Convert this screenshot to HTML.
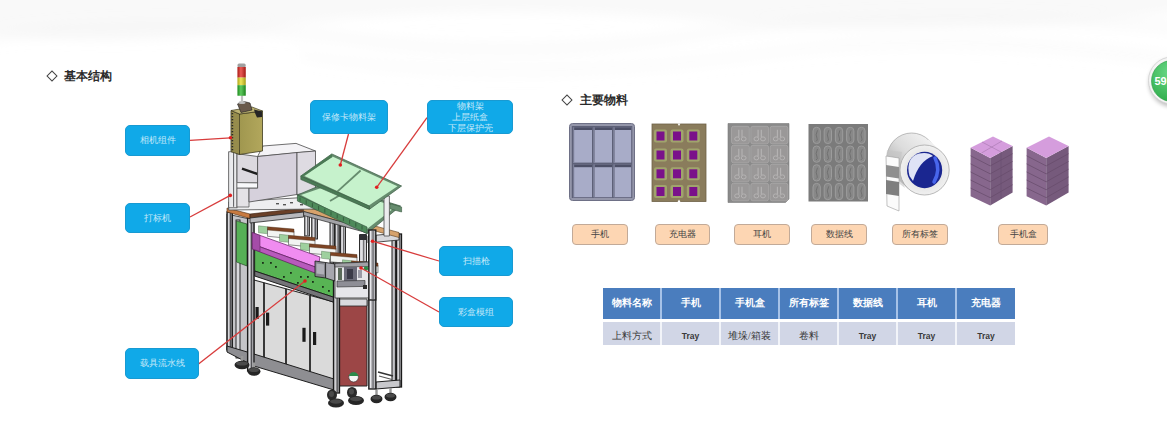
<!DOCTYPE html>
<html><head><meta charset="utf-8">
<style>
html,body{margin:0;padding:0;}
body{width:1167px;height:429px;position:relative;overflow:hidden;background:#fff;font-family:"Liberation Serif",serif;}
.bg{position:absolute;left:0;top:0;width:1167px;height:429px;}
.h{position:absolute;font-size:12px;color:#2a2a2a;font-weight:bold;line-height:12px;white-space:nowrap;}
.dia{position:absolute;width:6px;height:6px;border:1.3px solid #444;transform:rotate(45deg);}
.cb{position:absolute;background:#10a9e8;border:1px solid #189ad2;border-radius:5px;color:#c4e8f8;font-size:9px;line-height:11px;text-align:center;display:flex;align-items:center;justify-content:center;box-sizing:border-box;}
.lb{position:absolute;top:224px;height:21px;background:#fdd6b3;border:1px solid #c2aa98;border-radius:4px;box-sizing:border-box;font-size:9px;color:#444;display:flex;align-items:center;justify-content:center;}
table{position:absolute;left:603px;top:288px;border-collapse:separate;border-spacing:0;}
td{padding:0;text-align:center;font-size:10px;}
tr.r2 td{padding-top:4px;}
tr.r1 td{padding-bottom:2px;}
</style></head><body>
<svg class="bg" width="1167" height="429" viewBox="0 0 1167 429">
<defs>
<filter id="bl" x="-20%" y="-50%" width="140%" height="200%"><feGaussianBlur stdDeviation="6"/></filter>
</defs>
<g filter="url(#bl)">
<path d="M-20 -20 H1190 V10 Q950 40 700 20 Q450 0 250 30 Q100 50 -20 30 Z" fill="#ececec" opacity="0.3"/>
<path d="M-20 45 Q150 20 350 45 Q520 70 700 40 Q900 10 1190 35 V22 Q900 0 700 28 Q520 55 350 32 Q150 8 -20 32 Z" fill="#ebebeb" opacity="0.2"/>
<path d="M300 60 Q500 95 760 60 Q950 35 1190 70 V55 Q950 20 760 48 Q500 80 300 50 Z" fill="#efefef" opacity="0.2"/>
</g>
</svg>

<div class="dia" style="left:48px;top:72px"></div>
<div class="h" style="left:64px;top:70px">基本结构</div>
<div class="dia" style="left:563px;top:95.5px"></div>
<div class="h" style="left:580px;top:94px">主要物料</div>

<!-- machine -->
<svg style="position:absolute;left:0;top:0" width="1167" height="429" viewBox="0 0 1167 429">
<defs><linearGradient id="olive" x1="0" y1="0" x2="1" y2="0"><stop offset="0" stop-color="#a0974f"/><stop offset="1" stop-color="#b2a75c"/></linearGradient><linearGradient id="tl" x1="0" y1="0" x2="1" y2="0"><stop offset="0" stop-color="#000" stop-opacity="0.25"/><stop offset="0.4" stop-color="#fff" stop-opacity="0.25"/><stop offset="1" stop-color="#000" stop-opacity="0.3"/></linearGradient></defs>
<rect x="392" y="236" width="3.3999999999999773" height="147" fill="#c4c4c8" stroke="#1a1a1a" stroke-width="1"/>
<rect x="396.5" y="234" width="5.0" height="153" fill="#a8a8ac" stroke="#1a1a1a" stroke-width="1.3"/>
<rect x="397.7" y="235" width="1" height="151" fill="#e8e8ec"/>
<rect x="399.3" y="235" width="0.9" height="151" fill="#4a4a4e"/>
<path d="M376.0 382.0 L400.0 380.0 L400.0 387.0 L376.0 389.0 Z" fill="#c8c8cc" stroke="#1e1e1e" stroke-width="1" stroke-linejoin="round"/>
<path d="M378.0 372.0 L393.0 376.0" stroke="#333" stroke-width="1.6" fill="none"/>
<path d="M379.0 376.0 L392.0 379.5" stroke="#555" stroke-width="1.2" fill="none"/>
<path d="M227.0 214.0 L254.0 220.0 L254.0 366.0 L227.0 350.0 Z" fill="#c4c4c8" stroke="#262626" stroke-width="0.8" stroke-linejoin="round"/>
<rect x="227" y="212" width="5.300000000000011" height="138" fill="#9a9a9e" stroke="#1a1a1a" stroke-width="1.3"/>
<rect x="228.2" y="213" width="1" height="136" fill="#e8e8ec"/>
<rect x="230.0" y="213" width="0.9" height="136" fill="#4a4a4e"/>
<rect x="236" y="220" width="4" height="138" fill="#d8d8dc" stroke="#1a1a1a" stroke-width="0.9"/>
<path d="M254.0 280.0 L334.0 302.0 L334.0 383.0 L254.0 362.0 Z" fill="#dadada" stroke="#262626" stroke-width="1.1" stroke-linejoin="round"/>
<path d="M264.0 282.8 L264.0 364.8" stroke="#262626" stroke-width="1.8" fill="none"/>
<path d="M286.0 288.8 L286.0 370.8" stroke="#262626" stroke-width="1.8" fill="none"/>
<path d="M310.0 295.4 L310.0 377.4" stroke="#262626" stroke-width="1.8" fill="none"/>
<rect x="255.5" y="307" width="3.2" height="12" fill="#1a1a1a"/>
<rect x="266" y="312.6" width="3.2" height="13" fill="#1a1a1a"/>
<rect x="302.4" y="327.8" width="3.2" height="14" fill="#1a1a1a"/>
<rect x="313" y="332" width="3.2" height="13" fill="#1a1a1a"/>
<path d="M227.0 346.0 L254.0 354.0 L334.0 379.0 L334.0 390.0 L254.0 366.0 L227.0 352.0 Z" fill="#8e8e92" stroke="#1e1e1e" stroke-width="1" stroke-linejoin="round"/>
<path d="M236.5 221.0 L247.0 224.0 L247.0 266.0 L236.5 262.0 Z" fill="#56b056" stroke="#2a4a2a" stroke-width="0.7" stroke-linejoin="round"/>
<rect x="304.7" y="209" width="4.699999999999989" height="27" fill="#b4b4b8" stroke="#1a1a1a" stroke-width="0.9"/>
<rect x="305.9" y="210" width="1" height="25" fill="#e8e8ec"/>
<rect x="307.3" y="210" width="0.9" height="25" fill="#4a4a4e"/>
<rect x="311.7" y="213" width="5.800000000000011" height="26" fill="#a0a0a4" stroke="#1a1a1a" stroke-width="0.9"/>
<rect x="312.9" y="214" width="1" height="24" fill="#e8e8ec"/>
<rect x="314.9" y="214" width="0.9" height="24" fill="#4a4a4e"/>
<rect x="330" y="219" width="4.5" height="44" fill="#b4b4b8" stroke="#1a1a1a" stroke-width="0.9"/>
<rect x="331.2" y="220" width="1" height="42" fill="#e8e8ec"/>
<rect x="332.6" y="220" width="0.9" height="42" fill="#4a4a4e"/>
<rect x="335" y="220" width="4.699999999999989" height="43" fill="#9c9ca0" stroke="#1a1a1a" stroke-width="0.9"/>
<rect x="336.2" y="221" width="1" height="41" fill="#e8e8ec"/>
<rect x="337.7" y="221" width="0.9" height="41" fill="#4a4a4e"/>
<rect x="340.5" y="226" width="5.0" height="36" fill="#c0c0c4" stroke="#1a1a1a" stroke-width="0.9"/>
<rect x="341.7" y="227" width="1" height="34" fill="#e8e8ec"/>
<rect x="343.3" y="227" width="0.9" height="34" fill="#4a4a4e"/>
<rect x="359.5" y="235" width="7.0" height="27" fill="#d0d0d4" stroke="#1a1a1a" stroke-width="0.9"/>
<rect x="360.7" y="236" width="1" height="25" fill="#e8e8ec"/>
<rect x="363.3" y="236" width="0.9" height="25" fill="#4a4a4e"/>
<rect x="359.5" y="234" width="7" height="6" fill="#303034"/>
<path d="M368.0 236.0 L399.0 233.0 L399.0 240.0 L368.0 243.0 Z" fill="#d8d8dc" stroke="#262626" stroke-width="0.8" stroke-linejoin="round"/>
<path d="M254.7 247.0 L336.0 276.0 L336.0 298.0 L254.7 271.0 Z" fill="#58b454" stroke="#243e24" stroke-width="0.9" stroke-linejoin="round"/>
<path d="M254.7 271.0 L336.0 298.0 L336.0 303.0 L254.7 276.0 Z" fill="#747478" stroke="#1e1e1e" stroke-width="1" stroke-linejoin="round"/>
<rect x="262" y="262" width="1.8" height="1.8" fill="#1a3018"/>
<rect x="275" y="266" width="1.8" height="1.8" fill="#1a3018"/>
<rect x="290" y="272" width="1.8" height="1.8" fill="#1a3018"/>
<rect x="300" y="276" width="1.8" height="1.8" fill="#1a3018"/>
<rect x="312" y="281" width="1.8" height="1.8" fill="#1a3018"/>
<rect x="322" y="286" width="1.8" height="1.8" fill="#1a3018"/>
<rect x="283" y="276" width="1.8" height="1.8" fill="#1a3018"/>
<rect x="297" y="282" width="1.8" height="1.8" fill="#1a3018"/>
<rect x="270" y="262" width="1.8" height="1.8" fill="#1a3018"/>
<rect x="307" y="276" width="1.8" height="1.8" fill="#1a3018"/>
<rect x="328" y="290" width="1.8" height="1.8" fill="#1a3018"/>
<rect x="247.6" y="218" width="6.400000000000006" height="153" fill="#a4a4a8" stroke="#1a1a1a" stroke-width="1.3"/>
<rect x="248.8" y="219" width="1" height="151" fill="#e8e8ec"/>
<rect x="251.1" y="219" width="0.9" height="151" fill="#4a4a4e"/>
<path d="M339.5 300.0 L367.0 300.0 L367.0 386.0 L339.5 386.0 Z" fill="#9c4646" stroke="#262626" stroke-width="1" stroke-linejoin="round"/>
<path d="M339.5 299.0 L367.0 299.0 L367.0 306.0 L339.5 306.0 Z" fill="#dadade" stroke="#262626" stroke-width="0.8" stroke-linejoin="round"/>
<circle cx="353.6" cy="377.2" r="4.8" fill="#f6f6f6" stroke="#333" stroke-width="0.6"/>
<path d="M348.9 376 A4.8 4.8 0 0 1 358.3 376 Z" fill="#2c8a4a"/>
<rect x="333.5" y="262" width="6.0" height="131" fill="#9a9a9e" stroke="#1a1a1a" stroke-width="1.3"/>
<rect x="334.7" y="263" width="1" height="129" fill="#e8e8ec"/>
<rect x="336.8" y="263" width="0.9" height="129" fill="#4a4a4e"/>
<rect x="368.8" y="236" width="7.0" height="153" fill="#b8b8bc" stroke="#1a1a1a" stroke-width="1.3"/>
<rect x="370.0" y="237" width="1" height="151" fill="#e8e8ec"/>
<rect x="372.6" y="237" width="0.9" height="151" fill="#4a4a4e"/>
<path d="M227.0 208.0 L250.0 214.0 L250.0 218.5 L227.0 212.0 Z" fill="#c87a40" stroke="#4a2a10" stroke-width="0.6" stroke-linejoin="round"/>
<path d="M250.0 214.0 L303.6 208.0 L303.6 212.5 L250.0 218.5 Z" fill="#6a4028" stroke="#3a2010" stroke-width="0.6" stroke-linejoin="round"/>
<path d="M250.0 218.0 L303.6 212.0 L303.6 217.0 L250.0 223.0 Z" fill="#b8b8bc" stroke="#262626" stroke-width="0.8" stroke-linejoin="round"/>
<path d="M303.6 206.5 L399.0 232.5 L399.0 237.5 L303.6 211.5 Z" fill="#d6a26c" stroke="#5a3a1a" stroke-width="0.6" stroke-linejoin="round"/>
<path d="M303.6 211.5 L368.0 229.0 L368.0 233.0 L303.6 215.5 Z" fill="#a4a4a8" stroke="#262626" stroke-width="0.7" stroke-linejoin="round"/>
<path d="M228.7 202.0 L303.0 197.5 L318.0 198.0 L318.0 209.0 L228.7 210.0 Z" fill="#eeeef0" stroke="#4a4a4a" stroke-width="0.8" stroke-linejoin="round"/>
<rect x="276" y="203" width="3" height="1.4" fill="#555"/>
<rect x="283" y="204" width="3" height="1.4" fill="#555"/>
<rect x="290" y="202" width="3" height="1.4" fill="#555"/>
<rect x="300" y="204" width="3" height="1.4" fill="#555"/>
<rect x="308" y="203" width="3" height="1.4" fill="#555"/>
<rect x="228.7" y="151.8" width="8.300000000000011" height="56.0" fill="#ebebed" stroke="#4a4a4a" stroke-width="0.8"/>
<rect x="229.9" y="152.8" width="1" height="54.0" fill="#e8e8ec"/>
<rect x="233.2" y="152.8" width="0.9" height="54.0" fill="#4a4a4e"/>
<path d="M237.0 153.7 L257.6 156.5 L257.6 183.0 L237.0 182.6 Z" fill="#dcd9df" stroke="#4a4a4a" stroke-width="0.8" stroke-linejoin="round"/>
<path d="M237.0 182.6 L257.6 183.0 L257.6 188.2 L237.0 188.2 Z" fill="#f8f8fa" stroke="#4a4a4a" stroke-width="0.6" stroke-linejoin="round"/>
<path d="M237.0 188.2 L249.0 188.2 L249.0 207.0 L237.0 207.0 Z" fill="#e4e2e6" stroke="#4a4a4a" stroke-width="0.7" stroke-linejoin="round"/>
<path d="M242 168.6 L257.6 174" stroke="#1e1e1e" stroke-width="2.4"/>
<path d="M263.0 146.0 L296.0 143.4 L315.5 151.0 L257.6 156.5 Z" fill="#f4f3f6" stroke="#4a4a4a" stroke-width="0.8" stroke-linejoin="round"/>
<path d="M257.6 156.5 L297.0 152.5 L297.0 194.5 L249.0 202.0 L249.0 188.2 L257.6 188.2 Z" fill="#d6d1dc" stroke="#4a4a4a" stroke-width="0.8" stroke-linejoin="round"/>
<path d="M297.0 152.5 L315.5 151.0 L315.5 192.5 L297.0 194.5 Z" fill="#dedbe2" stroke="#4a4a4a" stroke-width="0.8" stroke-linejoin="round"/>
<path d="M231.0 110.5 L239.5 114.0 L239.5 154.5 L231.0 151.7 Z" fill="#968c4c" stroke="#3e3a20" stroke-width="0.8" stroke-linejoin="round"/>
<path d="M239.5 114.0 L262.5 111.0 L262.5 151.0 L239.5 154.5 Z" fill="url(#olive)" stroke="#3e3a20" stroke-width="0.8" stroke-linejoin="round"/>
<path d="M231.0 110.5 L252.0 107.0 L262.5 111.0 L239.5 114.0 Z" fill="#bdb372" stroke="#3e3a20" stroke-width="0.7" stroke-linejoin="round"/>
<rect x="231.6" y="113" width="1.6" height="1.3" fill="#2a2a2a"/>
<rect x="231.6" y="116" width="1.6" height="1.3" fill="#2a2a2a"/>
<rect x="231.6" y="119" width="1.6" height="1.3" fill="#2a2a2a"/>
<rect x="231.6" y="122" width="1.6" height="1.3" fill="#2a2a2a"/>
<rect x="231.6" y="125" width="1.6" height="1.3" fill="#2a2a2a"/>
<rect x="231.6" y="128" width="1.6" height="1.3" fill="#2a2a2a"/>
<rect x="231.6" y="131" width="1.6" height="1.3" fill="#2a2a2a"/>
<rect x="231.6" y="134" width="1.6" height="1.3" fill="#2a2a2a"/>
<rect x="231.6" y="137" width="1.6" height="1.3" fill="#2a2a2a"/>
<rect x="231.6" y="140" width="1.6" height="1.3" fill="#2a2a2a"/>
<rect x="231.6" y="143" width="1.6" height="1.3" fill="#2a2a2a"/>
<rect x="231.6" y="146" width="1.6" height="1.3" fill="#2a2a2a"/>
<rect x="231.6" y="149" width="1.6" height="1.3" fill="#2a2a2a"/>
<path d="M239.5 115.0 L239.5 150.0" stroke="#5a5530" stroke-width="0.8" fill="none"/>
<path d="M237.5 104.0 L244.0 101.5 L250.0 103.0 L252.0 110.0 L241.0 112.5 Z" fill="#6a5a4c" stroke="#1e1e1e" stroke-width="0.6" stroke-linejoin="round"/>
<ellipse cx="242" cy="102.5" rx="3.5" ry="1.6" fill="#b8b8b8"/>
<path d="M254.0 109.5 L262.0 111.5 L262.0 117.0 L257.0 117.5 L255.0 113.0 Z" fill="#252525"/>
<rect x="240.9" y="95" width="2.2" height="8" fill="#c0c0c0"/>
<rect x="237.5" y="63.5" width="8.2" height="4" rx="1.5" fill="#a0a0a0"/>
<rect x="237.5" y="67" width="8.2" height="10.6" fill="#e2231c"/>
<rect x="237.5" y="77.6" width="8.2" height="7.6" fill="#e9dc22"/>
<rect x="237.5" y="85.2" width="8.2" height="10.5" fill="#28b828"/>
<rect x="237.5" y="67" width="8.2" height="28.7" fill="url(#tl)"/>
<path d="M297.4 195.0 L326.0 183.0 L400.5 206.0 L367.0 233.6 Z" fill="#668c6e" stroke="#3a5a42" stroke-width="0.7" stroke-linejoin="round"/>
<path d="M301.0 195.0 L327.0 186.0 L396.0 206.5 L367.0 229.0 Z" fill="#c6f2cc"/>
<path d="M330.0 201.0 L352.0 188.0" stroke="#668c6e" stroke-width="1.8" fill="none"/>
<path d="M297.4 195.0 L367.0 227.0 L367.0 233.6 L297.4 201.0 Z" fill="#4e8a5a" stroke="#3a5a42" stroke-width="0.7" stroke-linejoin="round"/>
<path d="M300.0 197.5 L300.0 201.5" stroke="#2c4c34" stroke-width="0.7" fill="none"/>
<path d="M306.2 200.3 L306.2 204.3" stroke="#2c4c34" stroke-width="0.7" fill="none"/>
<path d="M312.4 203.1 L312.4 207.1" stroke="#2c4c34" stroke-width="0.7" fill="none"/>
<path d="M318.6 205.9 L318.6 209.9" stroke="#2c4c34" stroke-width="0.7" fill="none"/>
<path d="M324.8 208.7 L324.8 212.7" stroke="#2c4c34" stroke-width="0.7" fill="none"/>
<path d="M331.0 211.5 L331.0 215.5" stroke="#2c4c34" stroke-width="0.7" fill="none"/>
<path d="M337.2 214.3 L337.2 218.3" stroke="#2c4c34" stroke-width="0.7" fill="none"/>
<path d="M343.4 217.1 L343.4 221.1" stroke="#2c4c34" stroke-width="0.7" fill="none"/>
<path d="M349.6 219.9 L349.6 223.9" stroke="#2c4c34" stroke-width="0.7" fill="none"/>
<path d="M355.8 222.7 L355.8 226.7" stroke="#2c4c34" stroke-width="0.7" fill="none"/>
<path d="M362.0 225.5 L362.0 229.5" stroke="#2c4c34" stroke-width="0.7" fill="none"/>
<path d="M390.5 203.7 L401.6 207.0 L401.6 212.0 L390.5 209.0 Z" fill="#668c6e" stroke="#3a5a42" stroke-width="0.6" stroke-linejoin="round"/>
<path d="M384.0 196.0 L389.4 196.0 L389.4 236.0 L384.0 236.0 Z" fill="#ececee" stroke="#4a4a4a" stroke-width="0.8" stroke-linejoin="round"/>
<path d="M300.8 176.0 L331.8 153.9 L401.6 186.0 L369.4 209.3 Z" fill="#668c6e" stroke="#3a5a42" stroke-width="0.7" stroke-linejoin="round"/>
<path d="M304.5 176.0 L332.5 156.5 L397.5 186.2 L368.8 205.5 Z" fill="#c6f2cc"/>
<path d="M360.6 170.5 L336.2 192.6" stroke="#668c6e" stroke-width="1.8" fill="none"/>
<path d="M300.8 176.0 L369.4 206.0 L369.4 209.3 L300.8 179.5 Z" fill="#4a7a55" stroke="#3a5a42" stroke-width="0.6" stroke-linejoin="round"/>
<path d="M300.8 176.0 L331.8 153.9 L332.5 157.0 L302.0 177.0 Z" fill="#4a7a55"/>
<path d="M258.5 225.8 L267.5 226.8 L267.5 233.8 L258.5 232.8 Z" fill="#9ed09e" stroke="#4a6a4a" stroke-width="0.4" stroke-linejoin="round"/>
<path d="M267.5 228.8 L294.0 231.3 L294.0 238.8 L267.5 236.3 Z" fill="#f2f4f2" stroke="#444" stroke-width="0.6" stroke-linejoin="round"/>
<path d="M267.5 226.8 L294.0 229.1 L294.0 232.3 L267.5 230.0 Z" fill="#7e4424" stroke="#4a2a14" stroke-width="0.4" stroke-linejoin="round"/>
<path d="M279.5 234.3 L288.5 235.3 L288.5 242.3 L279.5 241.3 Z" fill="#9ed09e" stroke="#4a6a4a" stroke-width="0.4" stroke-linejoin="round"/>
<path d="M288.5 237.3 L315.0 239.8 L315.0 247.3 L288.5 244.8 Z" fill="#f2f4f2" stroke="#444" stroke-width="0.6" stroke-linejoin="round"/>
<path d="M288.5 235.3 L315.0 237.6 L315.0 240.8 L288.5 238.5 Z" fill="#7e4424" stroke="#4a2a14" stroke-width="0.4" stroke-linejoin="round"/>
<path d="M300.5 242.8 L309.5 243.8 L309.5 250.8 L300.5 249.8 Z" fill="#9ed09e" stroke="#4a6a4a" stroke-width="0.4" stroke-linejoin="round"/>
<path d="M309.5 245.8 L336.0 248.3 L336.0 255.8 L309.5 253.3 Z" fill="#f2f4f2" stroke="#444" stroke-width="0.6" stroke-linejoin="round"/>
<path d="M309.5 243.8 L336.0 246.1 L336.0 249.3 L309.5 247.0 Z" fill="#7e4424" stroke="#4a2a14" stroke-width="0.4" stroke-linejoin="round"/>
<path d="M321.5 251.3 L330.5 252.3 L330.5 259.3 L321.5 258.3 Z" fill="#9ed09e" stroke="#4a6a4a" stroke-width="0.4" stroke-linejoin="round"/>
<path d="M330.5 254.3 L357.0 256.8 L357.0 264.3 L330.5 261.8 Z" fill="#f2f4f2" stroke="#444" stroke-width="0.6" stroke-linejoin="round"/>
<path d="M330.5 252.3 L357.0 254.6 L357.0 257.8 L330.5 255.5 Z" fill="#7e4424" stroke="#4a2a14" stroke-width="0.4" stroke-linejoin="round"/>
<path d="M342.5 259.8 L351.5 260.8 L351.5 267.8 L342.5 266.8 Z" fill="#9ed09e" stroke="#4a6a4a" stroke-width="0.4" stroke-linejoin="round"/>
<path d="M351.5 262.8 L378.0 265.3 L378.0 272.8 L351.5 270.3 Z" fill="#f2f4f2" stroke="#444" stroke-width="0.6" stroke-linejoin="round"/>
<path d="M351.5 260.8 L378.0 263.1 L378.0 266.3 L351.5 264.0 Z" fill="#7e4424" stroke="#4a2a14" stroke-width="0.4" stroke-linejoin="round"/>
<path d="M252.3 232.6 L320.0 257.0 L318.0 268.0 L252.3 244.0 Z" fill="#f08cf0" stroke="#5a1a5a" stroke-width="0.7" stroke-linejoin="round"/>
<path d="M252.3 244.0 L318.0 268.0 L315.0 273.0 L252.3 249.0 Z" fill="#b85abc" stroke="#5a1a5a" stroke-width="0.7" stroke-linejoin="round"/>
<path d="M252.3 232.6 L260.0 235.4 L260.0 251.5 L252.3 249.0 Z" fill="#a44ca8" stroke="#5a1a5a" stroke-width="0.5" stroke-linejoin="round"/>
<path d="M315.0 261.0 L325.6 262.5 L325.6 278.0 L315.0 276.5 Z" fill="#85858c" stroke="#1a1a1a" stroke-width="0.8" stroke-linejoin="round"/>
<path d="M316.5 263.5 L324.0 264.5 L324.0 274.5 L316.5 273.5 Z" fill="#b0b0b8"/>
<path d="M325.6 262.5 L335.0 264.0 L335.0 281.0 L325.6 278.0 Z" fill="#a6a6ae" stroke="#1a1a1a" stroke-width="0.8" stroke-linejoin="round"/>
<path d="M335.0 263.4 L369.6 262.0 L369.6 298.0 L335.0 298.0 Z" fill="#e6e6ea" stroke="#2a2a2a" stroke-width="0.8" stroke-linejoin="round"/>
<path d="M335.0 263.4 L369.6 262.0 L369.6 266.5 L335.0 267.0 Z" fill="#a0a0a6" stroke="#2a2a2a" stroke-width="0.6" stroke-linejoin="round"/>
<rect x="338" y="268" width="4" height="12" fill="#5a6a5a"/>
<rect x="344" y="267" width="13" height="14" fill="#6a6a78"/>
<rect x="347" y="269" width="6" height="10" fill="#3a3a48"/>
<rect x="358" y="270" width="4" height="8" fill="#9a9aa6"/>
<circle cx="366" cy="268.5" r="2.2" fill="#2e8a44"/>
<path d="M337.0 281.0 L365.0 280.5 L365.0 286.4 L337.0 287.0 Z" fill="#8e8e96" stroke="#2a2a2a" stroke-width="0.6" stroke-linejoin="round"/>
<rect x="363" y="285" width="4" height="4" fill="#2a2a2a"/>
<rect x="368.8" y="230" width="7.0" height="70" fill="#b8b8bc" stroke="#1a1a1a" stroke-width="1.3"/>
<rect x="370.0" y="231" width="1" height="68" fill="#e8e8ec"/>
<rect x="372.6" y="231" width="0.9" height="68" fill="#4a4a4e"/>
<rect x="240.8" y="356" width="2.4" height="7" fill="#9a9a9a"/>
<ellipse cx="242" cy="365" rx="7.5" ry="4.2" fill="#262626"/>
<ellipse cx="242" cy="363.5" rx="6.0" ry="2" fill="#4a4a4a"/>
<rect x="252.8" y="362.5" width="2.4" height="7" fill="#9a9a9a"/>
<ellipse cx="254" cy="371.5" rx="6.5" ry="4.2" fill="#262626"/>
<ellipse cx="254" cy="370.0" rx="5.0" ry="2" fill="#4a4a4a"/>
<rect x="375.3" y="390" width="2.4" height="7" fill="#9a9a9a"/>
<ellipse cx="376.5" cy="399" rx="6.0" ry="4.2" fill="#262626"/>
<ellipse cx="376.5" cy="397.5" rx="4.5" ry="2" fill="#4a4a4a"/>
<rect x="389.3" y="388" width="2.4" height="7" fill="#9a9a9a"/>
<ellipse cx="390.5" cy="397" rx="6.0" ry="4.2" fill="#262626"/>
<ellipse cx="390.5" cy="395.5" rx="4.5" ry="2" fill="#4a4a4a"/>
<ellipse cx="332" cy="395" rx="5" ry="5.5" fill="#2a2a2a"/>
<ellipse cx="331.5" cy="394" rx="2.5" ry="3" fill="#4a4a4a"/>
<ellipse cx="336" cy="403" rx="8" ry="4.5" fill="#262626"/>
<ellipse cx="336" cy="401.5" rx="6" ry="2.2" fill="#484848"/>
<ellipse cx="352" cy="392.5" rx="5" ry="5.5" fill="#2a2a2a"/>
<ellipse cx="351.5" cy="391.5" rx="2.5" ry="3" fill="#4a4a4a"/>
<ellipse cx="356" cy="400.5" rx="8" ry="4.5" fill="#262626"/>
<ellipse cx="356" cy="399.0" rx="6" ry="2.2" fill="#484848"/>
</svg>
<!-- /machine -->
<!-- red -->
<svg style="position:absolute;left:0;top:0" width="1167" height="429" viewBox="0 0 1167 429">
<path d="M190 140.3 L230.5 137.8" stroke="#d83c3c" stroke-width="1.3" fill="none"/>
<circle cx="230.5" cy="137.8" r="1.8" fill="#e02020"/>
<path d="M190 217 L230.3 195.4" stroke="#d83c3c" stroke-width="1.3" fill="none"/>
<circle cx="230.3" cy="195.4" r="1.8" fill="#e02020"/>
<path d="M198.5 364 L305 281" stroke="#d83c3c" stroke-width="1.3" fill="none"/>
<circle cx="305" cy="281" r="1.8" fill="#e02020"/>
<path d="M348.5 134 L340.3 165" stroke="#d83c3c" stroke-width="1.3" fill="none"/>
<circle cx="340.3" cy="165" r="1.8" fill="#e02020"/>
<path d="M427 117.6 L376.7 187.3" stroke="#d83c3c" stroke-width="1.3" fill="none"/>
<circle cx="376.7" cy="187.3" r="1.8" fill="#e02020"/>
<path d="M439 261 L372.5 241.2" stroke="#d83c3c" stroke-width="1.3" fill="none"/>
<circle cx="372.5" cy="241.2" r="1.8" fill="#e02020"/>
<path d="M439 312 L361 268" stroke="#d83c3c" stroke-width="1.3" fill="none"/>
<circle cx="361" cy="268" r="1.8" fill="#e02020"/>
</svg>
<!-- /red -->
<!-- callouts -->
<div class="cb" style="left:125px;top:125px;width:65px;height:31px">相机组件</div>
<div class="cb" style="left:125px;top:203px;width:65px;height:30px">打标机</div>
<div class="cb" style="left:125px;top:348px;width:74px;height:31px">载具流水线</div>
<div class="cb" style="left:310px;top:100px;width:78px;height:34px">保修卡物料架</div>
<div class="cb" style="left:427px;top:100px;width:86px;height:34px">物料架<br>上层纸盒<br>下层保护壳</div>
<div class="cb" style="left:439px;top:246px;width:74px;height:30px">扫描枪</div>
<div class="cb" style="left:439px;top:297px;width:74px;height:30px">彩盒模组</div>

<!-- materials -->
<svg style="position:absolute;left:0;top:0" width="1167" height="429" viewBox="0 0 1167 429">
<defs><linearGradient id="rollside" x1="0.7" y1="0" x2="0" y2="0.8"><stop offset="0" stop-color="#f0f0f0"/><stop offset="0.45" stop-color="#dcdcdc"/><stop offset="1" stop-color="#a6a6a6"/></linearGradient><radialGradient id="hole" cx="0.6" cy="0.55" r="0.6"><stop offset="0" stop-color="#2a3ab8"/><stop offset="0.5" stop-color="#3a58e0"/><stop offset="0.8" stop-color="#1a2890"/><stop offset="1" stop-color="#0c1460"/></radialGradient><radialGradient id="face" cx="0.5" cy="0.5" r="0.5"><stop offset="0.6" stop-color="#e4e4e4"/><stop offset="1" stop-color="#f0f0f0"/></radialGradient></defs>
<rect x="569.5" y="123.5" width="65" height="77" rx="3" fill="#9496aa" stroke="#6e7086" stroke-width="1"/>
<rect x="571.8" y="126" width="60.5" height="72" fill="#5e6178"/>
<rect x="573" y="127.2" width="19" height="35.39999999999999" fill="#a8acc8"/>
<rect x="573" y="127.2" width="19" height="2.8" fill="#4c4f66"/>
<rect x="573" y="127.2" width="1.2" height="35.39999999999999" fill="#7a7d96"/>
<rect x="573" y="164.4" width="19" height="32.79999999999998" fill="#a8acc8"/>
<rect x="573" y="164.4" width="19" height="2.8" fill="#4c4f66"/>
<rect x="573" y="164.4" width="1.2" height="32.79999999999998" fill="#7a7d96"/>
<rect x="593.6" y="127.2" width="18.399999999999977" height="35.39999999999999" fill="#a8acc8"/>
<rect x="593.6" y="127.2" width="18.399999999999977" height="2.8" fill="#4c4f66"/>
<rect x="593.6" y="127.2" width="1.2" height="35.39999999999999" fill="#7a7d96"/>
<rect x="593.6" y="164.4" width="18.399999999999977" height="32.79999999999998" fill="#a8acc8"/>
<rect x="593.6" y="164.4" width="18.399999999999977" height="2.8" fill="#4c4f66"/>
<rect x="593.6" y="164.4" width="1.2" height="32.79999999999998" fill="#7a7d96"/>
<rect x="613.6" y="127.2" width="17.600000000000023" height="35.39999999999999" fill="#a8acc8"/>
<rect x="613.6" y="127.2" width="17.600000000000023" height="2.8" fill="#4c4f66"/>
<rect x="613.6" y="127.2" width="1.2" height="35.39999999999999" fill="#7a7d96"/>
<rect x="613.6" y="164.4" width="17.600000000000023" height="32.79999999999998" fill="#a8acc8"/>
<rect x="613.6" y="164.4" width="17.600000000000023" height="2.8" fill="#4c4f66"/>
<rect x="613.6" y="164.4" width="1.2" height="32.79999999999998" fill="#7a7d96"/>
<rect x="652" y="124" width="54" height="77.5" fill="#8a7c5c" stroke="#6e6248" stroke-width="0.8"/>
<rect x="654.0" y="129.5" width="13" height="13" rx="2" fill="#a0a46c"/>
<rect x="656.5" y="131.5" width="8" height="9" fill="#7a118a"/>
<rect x="654.0" y="148.5" width="13" height="13" rx="2" fill="#a0a46c"/>
<rect x="656.5" y="150.5" width="8" height="9" fill="#7a118a"/>
<rect x="654.0" y="167.3" width="13" height="13" rx="2" fill="#a0a46c"/>
<rect x="656.5" y="169.3" width="8" height="9" fill="#7a118a"/>
<rect x="654.0" y="185.0" width="13" height="13" rx="2" fill="#a0a46c"/>
<rect x="656.5" y="187.0" width="8" height="9" fill="#7a118a"/>
<rect x="670.5" y="129.5" width="13" height="13" rx="2" fill="#a0a46c"/>
<rect x="673" y="131.5" width="8" height="9" fill="#7a118a"/>
<rect x="670.5" y="148.5" width="13" height="13" rx="2" fill="#a0a46c"/>
<rect x="673" y="150.5" width="8" height="9" fill="#7a118a"/>
<rect x="670.5" y="167.3" width="13" height="13" rx="2" fill="#a0a46c"/>
<rect x="673" y="169.3" width="8" height="9" fill="#7a118a"/>
<rect x="670.5" y="185.0" width="13" height="13" rx="2" fill="#a0a46c"/>
<rect x="673" y="187.0" width="8" height="9" fill="#7a118a"/>
<rect x="686.8" y="129.5" width="13" height="13" rx="2" fill="#a0a46c"/>
<rect x="689.3" y="131.5" width="8" height="9" fill="#7a118a"/>
<rect x="686.8" y="148.5" width="13" height="13" rx="2" fill="#a0a46c"/>
<rect x="689.3" y="150.5" width="8" height="9" fill="#7a118a"/>
<rect x="686.8" y="167.3" width="13" height="13" rx="2" fill="#a0a46c"/>
<rect x="689.3" y="169.3" width="8" height="9" fill="#7a118a"/>
<rect x="686.8" y="185.0" width="13" height="13" rx="2" fill="#a0a46c"/>
<rect x="689.3" y="187.0" width="8" height="9" fill="#7a118a"/>
<path d="M677.5 123.5 L679 126 L680.5 123.5 Z M677.5 202 L679 199.5 L680.5 202 Z" fill="#ffffff"/>
<path d="M728 123.5 H789 V199 L785.5 202.5 H728 Z" fill="#8a8a8a" stroke="#7a7a7a" stroke-width="0.6"/>
<rect x="731.5" y="126.3" width="17.8" height="17.5" rx="2" fill="#9a9898" stroke="#b2b0b0" stroke-width="0.6"/>
<path d="M738.8 129.8 V137.3 M742.0 129.8 V137.3" stroke="#b6b4b4" stroke-width="1.1" fill="none"/>
<ellipse cx="737.1" cy="138.9" rx="2.4" ry="2" fill="none" stroke="#b6b4b4" stroke-width="1"/>
<ellipse cx="743.7" cy="138.9" rx="2.4" ry="2" fill="none" stroke="#b6b4b4" stroke-width="1"/>
<rect x="731.5" y="145.3" width="17.8" height="17.5" rx="2" fill="#9a9898" stroke="#b2b0b0" stroke-width="0.6"/>
<path d="M738.8 148.8 V156.3 M742.0 148.8 V156.3" stroke="#b6b4b4" stroke-width="1.1" fill="none"/>
<ellipse cx="737.1" cy="157.9" rx="2.4" ry="2" fill="none" stroke="#b6b4b4" stroke-width="1"/>
<ellipse cx="743.7" cy="157.9" rx="2.4" ry="2" fill="none" stroke="#b6b4b4" stroke-width="1"/>
<rect x="731.5" y="164.3" width="17.8" height="17.5" rx="2" fill="#9a9898" stroke="#b2b0b0" stroke-width="0.6"/>
<path d="M738.8 167.8 V175.3 M742.0 167.8 V175.3" stroke="#b6b4b4" stroke-width="1.1" fill="none"/>
<ellipse cx="737.1" cy="176.9" rx="2.4" ry="2" fill="none" stroke="#b6b4b4" stroke-width="1"/>
<ellipse cx="743.7" cy="176.9" rx="2.4" ry="2" fill="none" stroke="#b6b4b4" stroke-width="1"/>
<rect x="731.5" y="183.3" width="17.8" height="17.5" rx="2" fill="#9a9898" stroke="#b2b0b0" stroke-width="0.6"/>
<path d="M738.8 186.8 V194.3 M742.0 186.8 V194.3" stroke="#b6b4b4" stroke-width="1.1" fill="none"/>
<ellipse cx="737.1" cy="195.9" rx="2.4" ry="2" fill="none" stroke="#b6b4b4" stroke-width="1"/>
<ellipse cx="743.7" cy="195.9" rx="2.4" ry="2" fill="none" stroke="#b6b4b4" stroke-width="1"/>
<rect x="750.8" y="126.3" width="17.8" height="17.5" rx="2" fill="#9a9898" stroke="#b2b0b0" stroke-width="0.6"/>
<path d="M758.0999999999999 129.8 V137.3 M761.3 129.8 V137.3" stroke="#b6b4b4" stroke-width="1.1" fill="none"/>
<ellipse cx="756.4" cy="138.9" rx="2.4" ry="2" fill="none" stroke="#b6b4b4" stroke-width="1"/>
<ellipse cx="763.0" cy="138.9" rx="2.4" ry="2" fill="none" stroke="#b6b4b4" stroke-width="1"/>
<rect x="750.8" y="145.3" width="17.8" height="17.5" rx="2" fill="#9a9898" stroke="#b2b0b0" stroke-width="0.6"/>
<path d="M758.0999999999999 148.8 V156.3 M761.3 148.8 V156.3" stroke="#b6b4b4" stroke-width="1.1" fill="none"/>
<ellipse cx="756.4" cy="157.9" rx="2.4" ry="2" fill="none" stroke="#b6b4b4" stroke-width="1"/>
<ellipse cx="763.0" cy="157.9" rx="2.4" ry="2" fill="none" stroke="#b6b4b4" stroke-width="1"/>
<rect x="750.8" y="164.3" width="17.8" height="17.5" rx="2" fill="#9a9898" stroke="#b2b0b0" stroke-width="0.6"/>
<path d="M758.0999999999999 167.8 V175.3 M761.3 167.8 V175.3" stroke="#b6b4b4" stroke-width="1.1" fill="none"/>
<ellipse cx="756.4" cy="176.9" rx="2.4" ry="2" fill="none" stroke="#b6b4b4" stroke-width="1"/>
<ellipse cx="763.0" cy="176.9" rx="2.4" ry="2" fill="none" stroke="#b6b4b4" stroke-width="1"/>
<rect x="750.8" y="183.3" width="17.8" height="17.5" rx="2" fill="#9a9898" stroke="#b2b0b0" stroke-width="0.6"/>
<path d="M758.0999999999999 186.8 V194.3 M761.3 186.8 V194.3" stroke="#b6b4b4" stroke-width="1.1" fill="none"/>
<ellipse cx="756.4" cy="195.9" rx="2.4" ry="2" fill="none" stroke="#b6b4b4" stroke-width="1"/>
<ellipse cx="763.0" cy="195.9" rx="2.4" ry="2" fill="none" stroke="#b6b4b4" stroke-width="1"/>
<rect x="770.1" y="126.3" width="17.8" height="17.5" rx="2" fill="#9a9898" stroke="#b2b0b0" stroke-width="0.6"/>
<path d="M777.4 129.8 V137.3 M780.6 129.8 V137.3" stroke="#b6b4b4" stroke-width="1.1" fill="none"/>
<ellipse cx="775.7" cy="138.9" rx="2.4" ry="2" fill="none" stroke="#b6b4b4" stroke-width="1"/>
<ellipse cx="782.3000000000001" cy="138.9" rx="2.4" ry="2" fill="none" stroke="#b6b4b4" stroke-width="1"/>
<rect x="770.1" y="145.3" width="17.8" height="17.5" rx="2" fill="#9a9898" stroke="#b2b0b0" stroke-width="0.6"/>
<path d="M777.4 148.8 V156.3 M780.6 148.8 V156.3" stroke="#b6b4b4" stroke-width="1.1" fill="none"/>
<ellipse cx="775.7" cy="157.9" rx="2.4" ry="2" fill="none" stroke="#b6b4b4" stroke-width="1"/>
<ellipse cx="782.3000000000001" cy="157.9" rx="2.4" ry="2" fill="none" stroke="#b6b4b4" stroke-width="1"/>
<rect x="770.1" y="164.3" width="17.8" height="17.5" rx="2" fill="#9a9898" stroke="#b2b0b0" stroke-width="0.6"/>
<path d="M777.4 167.8 V175.3 M780.6 167.8 V175.3" stroke="#b6b4b4" stroke-width="1.1" fill="none"/>
<ellipse cx="775.7" cy="176.9" rx="2.4" ry="2" fill="none" stroke="#b6b4b4" stroke-width="1"/>
<ellipse cx="782.3000000000001" cy="176.9" rx="2.4" ry="2" fill="none" stroke="#b6b4b4" stroke-width="1"/>
<rect x="770.1" y="183.3" width="17.8" height="17.5" rx="2" fill="#9a9898" stroke="#b2b0b0" stroke-width="0.6"/>
<path d="M777.4 186.8 V194.3 M780.6 186.8 V194.3" stroke="#b6b4b4" stroke-width="1.1" fill="none"/>
<ellipse cx="775.7" cy="195.9" rx="2.4" ry="2" fill="none" stroke="#b6b4b4" stroke-width="1"/>
<ellipse cx="782.3000000000001" cy="195.9" rx="2.4" ry="2" fill="none" stroke="#b6b4b4" stroke-width="1"/>
<rect x="808.5" y="124" width="59.5" height="77.5" fill="#7b7b7b"/>
<rect x="813.0" y="127.3" width="7.3" height="16.3" rx="3.6" fill="#888888" stroke="#9c9c9c" stroke-width="1"/>
<path d="M817.5 130.3 Q815.0 135.3 817.0 138.3 Q818.0 140.3 816.0 141.3" stroke="#6a6a6a" stroke-width="0.8" fill="none"/>
<rect x="813.0" y="146.0" width="7.3" height="16.3" rx="3.6" fill="#888888" stroke="#9c9c9c" stroke-width="1"/>
<path d="M817.5 149.0 Q815.0 154.0 817.0 157.0 Q818.0 159.0 816.0 160.0" stroke="#6a6a6a" stroke-width="0.8" fill="none"/>
<rect x="813.0" y="164.7" width="7.3" height="16.3" rx="3.6" fill="#888888" stroke="#9c9c9c" stroke-width="1"/>
<path d="M817.5 167.7 Q815.0 172.7 817.0 175.7 Q818.0 177.7 816.0 178.7" stroke="#6a6a6a" stroke-width="0.8" fill="none"/>
<rect x="813.0" y="183.39999999999998" width="7.3" height="16.3" rx="3.6" fill="#888888" stroke="#9c9c9c" stroke-width="1"/>
<path d="M817.5 186.39999999999998 Q815.0 191.39999999999998 817.0 194.39999999999998 Q818.0 196.39999999999998 816.0 197.39999999999998" stroke="#6a6a6a" stroke-width="0.8" fill="none"/>
<rect x="824.2" y="127.3" width="7.3" height="16.3" rx="3.6" fill="#888888" stroke="#9c9c9c" stroke-width="1"/>
<path d="M828.7 130.3 Q826.2 135.3 828.2 138.3 Q829.2 140.3 827.2 141.3" stroke="#6a6a6a" stroke-width="0.8" fill="none"/>
<rect x="824.2" y="146.0" width="7.3" height="16.3" rx="3.6" fill="#888888" stroke="#9c9c9c" stroke-width="1"/>
<path d="M828.7 149.0 Q826.2 154.0 828.2 157.0 Q829.2 159.0 827.2 160.0" stroke="#6a6a6a" stroke-width="0.8" fill="none"/>
<rect x="824.2" y="164.7" width="7.3" height="16.3" rx="3.6" fill="#888888" stroke="#9c9c9c" stroke-width="1"/>
<path d="M828.7 167.7 Q826.2 172.7 828.2 175.7 Q829.2 177.7 827.2 178.7" stroke="#6a6a6a" stroke-width="0.8" fill="none"/>
<rect x="824.2" y="183.39999999999998" width="7.3" height="16.3" rx="3.6" fill="#888888" stroke="#9c9c9c" stroke-width="1"/>
<path d="M828.7 186.39999999999998 Q826.2 191.39999999999998 828.2 194.39999999999998 Q829.2 196.39999999999998 827.2 197.39999999999998" stroke="#6a6a6a" stroke-width="0.8" fill="none"/>
<rect x="835.4" y="127.3" width="7.3" height="16.3" rx="3.6" fill="#888888" stroke="#9c9c9c" stroke-width="1"/>
<path d="M839.9 130.3 Q837.4 135.3 839.4 138.3 Q840.4 140.3 838.4 141.3" stroke="#6a6a6a" stroke-width="0.8" fill="none"/>
<rect x="835.4" y="146.0" width="7.3" height="16.3" rx="3.6" fill="#888888" stroke="#9c9c9c" stroke-width="1"/>
<path d="M839.9 149.0 Q837.4 154.0 839.4 157.0 Q840.4 159.0 838.4 160.0" stroke="#6a6a6a" stroke-width="0.8" fill="none"/>
<rect x="835.4" y="164.7" width="7.3" height="16.3" rx="3.6" fill="#888888" stroke="#9c9c9c" stroke-width="1"/>
<path d="M839.9 167.7 Q837.4 172.7 839.4 175.7 Q840.4 177.7 838.4 178.7" stroke="#6a6a6a" stroke-width="0.8" fill="none"/>
<rect x="835.4" y="183.39999999999998" width="7.3" height="16.3" rx="3.6" fill="#888888" stroke="#9c9c9c" stroke-width="1"/>
<path d="M839.9 186.39999999999998 Q837.4 191.39999999999998 839.4 194.39999999999998 Q840.4 196.39999999999998 838.4 197.39999999999998" stroke="#6a6a6a" stroke-width="0.8" fill="none"/>
<rect x="846.6" y="127.3" width="7.3" height="16.3" rx="3.6" fill="#888888" stroke="#9c9c9c" stroke-width="1"/>
<path d="M851.1 130.3 Q848.6 135.3 850.6 138.3 Q851.6 140.3 849.6 141.3" stroke="#6a6a6a" stroke-width="0.8" fill="none"/>
<rect x="846.6" y="146.0" width="7.3" height="16.3" rx="3.6" fill="#888888" stroke="#9c9c9c" stroke-width="1"/>
<path d="M851.1 149.0 Q848.6 154.0 850.6 157.0 Q851.6 159.0 849.6 160.0" stroke="#6a6a6a" stroke-width="0.8" fill="none"/>
<rect x="846.6" y="164.7" width="7.3" height="16.3" rx="3.6" fill="#888888" stroke="#9c9c9c" stroke-width="1"/>
<path d="M851.1 167.7 Q848.6 172.7 850.6 175.7 Q851.6 177.7 849.6 178.7" stroke="#6a6a6a" stroke-width="0.8" fill="none"/>
<rect x="846.6" y="183.39999999999998" width="7.3" height="16.3" rx="3.6" fill="#888888" stroke="#9c9c9c" stroke-width="1"/>
<path d="M851.1 186.39999999999998 Q848.6 191.39999999999998 850.6 194.39999999999998 Q851.6 196.39999999999998 849.6 197.39999999999998" stroke="#6a6a6a" stroke-width="0.8" fill="none"/>
<rect x="857.8" y="127.3" width="7.3" height="16.3" rx="3.6" fill="#888888" stroke="#9c9c9c" stroke-width="1"/>
<path d="M862.3 130.3 Q859.8 135.3 861.8 138.3 Q862.8 140.3 860.8 141.3" stroke="#6a6a6a" stroke-width="0.8" fill="none"/>
<rect x="857.8" y="146.0" width="7.3" height="16.3" rx="3.6" fill="#888888" stroke="#9c9c9c" stroke-width="1"/>
<path d="M862.3 149.0 Q859.8 154.0 861.8 157.0 Q862.8 159.0 860.8 160.0" stroke="#6a6a6a" stroke-width="0.8" fill="none"/>
<rect x="857.8" y="164.7" width="7.3" height="16.3" rx="3.6" fill="#888888" stroke="#9c9c9c" stroke-width="1"/>
<path d="M862.3 167.7 Q859.8 172.7 861.8 175.7 Q862.8 177.7 860.8 178.7" stroke="#6a6a6a" stroke-width="0.8" fill="none"/>
<rect x="857.8" y="183.39999999999998" width="7.3" height="16.3" rx="3.6" fill="#888888" stroke="#9c9c9c" stroke-width="1"/>
<path d="M862.3 186.39999999999998 Q859.8 191.39999999999998 861.8 194.39999999999998 Q862.8 196.39999999999998 860.8 197.39999999999998" stroke="#6a6a6a" stroke-width="0.8" fill="none"/>
<ellipse cx="911.6" cy="158" rx="24.6" ry="25" fill="url(#rollside)" stroke="#a0a0a0" stroke-width="0.7"/>
<path d="M894.9 176.6 L928.3000000000001 139.4 L941.3000000000001 151.4 L907.9 188.6 Z" fill="url(#rollside)"/>
<path d="M887 150 Q884 165 892 178 L905 188 Q897 170 902 152 Z" fill="#c4c4c4" opacity="0.6"/>
<path d="M886 156 L899 158 L899 211 L887 206 Z" fill="#fbfbfb" stroke="#9a9a9a" stroke-width="0.6"/>
<path d="M886 165 L899 167 L899 178.5 L886 176.5 Z" fill="#8f8f8f"/>
<path d="M886 180 L899 182 L899 196 L886 194 Z" fill="#7f7f7f"/>
<ellipse cx="924.6" cy="170" rx="24.6" ry="25" fill="url(#face)" stroke="#a8a8a8" stroke-width="0.8"/>
<ellipse cx="924.6" cy="170" rx="17.6" ry="18.2" fill="#1a2690"/>
<path d="M935 158 Q941 170 934 182" stroke="#4866ec" stroke-width="3.5" fill="none" stroke-linecap="round"/>
<path d="M909.5 176 Q905 158 919 153.5 Q928 151.5 933 156 Q919 161 913 181 Z" fill="#dfe3f6"/>
<path d="M970.6 147.7 L990.2 158 L990.2 205.6 L970.6 196.2 Z" fill="#87678d"/>
<path d="M990.2 158 L1012.6 145.9 L1012.6 192.5 L990.2 205.6 Z" fill="#765a7c"/>
<path d="M993 136.5 L1012.6 145.9 L990.2 158 L970.6 147.7 Z" fill="#d59ddd"/>
<path d="M970.6 155.78333333333333 L990.2 165.93333333333334 L1012.6 153.66666666666669" stroke="#654a6a" stroke-width="0.7" fill="none"/>
<path d="M970.6 163.86666666666665 L990.2 173.86666666666667 L1012.6 161.43333333333334" stroke="#654a6a" stroke-width="0.7" fill="none"/>
<path d="M970.6 171.95 L990.2 181.8 L1012.6 169.2" stroke="#654a6a" stroke-width="0.7" fill="none"/>
<path d="M970.6 180.0333333333333 L990.2 189.73333333333332 L1012.6 176.96666666666667" stroke="#654a6a" stroke-width="0.7" fill="none"/>
<path d="M970.6 188.11666666666667 L990.2 197.66666666666666 L1012.6 184.73333333333335" stroke="#654a6a" stroke-width="0.7" fill="none"/>
<path d="M1026.6 147.7 L1046.2 158 L1046.2 205.6 L1026.6 196.2 Z" fill="#87678d"/>
<path d="M1046.2 158 L1068.6 145.9 L1068.6 192.5 L1046.2 205.6 Z" fill="#765a7c"/>
<path d="M1049 136.5 L1068.6 145.9 L1046.2 158 L1026.6 147.7 Z" fill="#d59ddd"/>
<path d="M1026.6 155.78333333333333 L1046.2 165.93333333333334 L1068.6 153.66666666666669" stroke="#654a6a" stroke-width="0.7" fill="none"/>
<path d="M1026.6 163.86666666666665 L1046.2 173.86666666666667 L1068.6 161.43333333333334" stroke="#654a6a" stroke-width="0.7" fill="none"/>
<path d="M1026.6 171.95 L1046.2 181.8 L1068.6 169.2" stroke="#654a6a" stroke-width="0.7" fill="none"/>
<path d="M1026.6 180.0333333333333 L1046.2 189.73333333333332 L1068.6 176.96666666666667" stroke="#654a6a" stroke-width="0.7" fill="none"/>
<path d="M1026.6 188.11666666666667 L1046.2 197.66666666666666 L1068.6 184.73333333333335" stroke="#654a6a" stroke-width="0.7" fill="none"/>
<path d="M982 142 L1001 152 M981.5 153 L1002 141" stroke="#a575ad" stroke-width="0.6"/>
<path d="M1001 152 V199" stroke="#6a4e70" stroke-width="0.6"/>
</svg>
<!-- /materials -->
<!-- labels -->
<div class="lb" style="left:572px;width:56px">手机</div>
<div class="lb" style="left:655px;width:55px">充电器</div>
<div class="lb" style="left:734px;width:56px">耳机</div>
<div class="lb" style="left:811px;width:56px">数据线</div>
<div class="lb" style="left:892px;width:56px">所有标签</div>
<div class="lb" style="left:998px;width:50px">手机盒</div>

<!-- table -->
<table>
<tr class="r1" style="height:31px;background:#4a7dbe;color:#fff;font-weight:bold;font-size:10.5px">
<td style="width:57px;border-right:2px solid #a6c2e8">物料名称</td>
<td style="width:57px;border-right:2px solid #a6c2e8">手机</td>
<td style="width:57px;border-right:2px solid #a6c2e8">手机盒</td>
<td style="width:57px;border-right:2px solid #a6c2e8">所有标签</td>
<td style="width:57px;border-right:2px solid #a6c2e8">数据线</td>
<td style="width:57px;border-right:2px solid #a6c2e8">耳机</td>
<td style="width:58px">充电器</td>
</tr>
<tr style="height:3px"><td colspan="7"></td></tr>
<tr class="r2" style="height:23px;background:#d1d6e6;color:#3a3a3a;font-size:10.5px">
<td style="border-right:2px solid #f2f4f9">上料方式</td>
<td style="border-right:2px solid #f2f4f9;font-family:'Liberation Sans',sans-serif;font-weight:bold;font-size:8.5px;padding-top:5px">Tray</td>
<td style="border-right:2px solid #f2f4f9">堆垛/箱装</td>
<td style="border-right:2px solid #f2f4f9">卷料</td>
<td style="border-right:2px solid #f2f4f9;font-family:'Liberation Sans',sans-serif;font-weight:bold;font-size:8.5px;padding-top:5px">Tray</td>
<td style="border-right:2px solid #f2f4f9;font-family:'Liberation Sans',sans-serif;font-weight:bold;font-size:8.5px;padding-top:5px">Tray</td>
<td style="font-family:'Liberation Sans',sans-serif;font-weight:bold;font-size:8.5px;padding-top:5px">Tray</td>
</tr>
</table>

<!-- badge -->
<svg style="position:absolute;left:1130px;top:45px" width="37" height="75" viewBox="1130 45 37 75">
<defs>
<radialGradient id="g59b" cx="0.45" cy="0.3" r="0.75">
<stop offset="0" stop-color="#6ad987"/><stop offset="1" stop-color="#2eab49"/>
</radialGradient>
<filter id="sh" x="-50%" y="-50%" width="200%" height="200%"><feGaussianBlur stdDeviation="2"/></filter>
</defs>
<circle cx="1173" cy="83" r="24" fill="#000" opacity="0.25" filter="url(#sh)"/>
<circle cx="1172" cy="80.5" r="23.5" fill="#f4f4f4" stroke="#cfcfcf" stroke-width="0.8"/>
<circle cx="1172" cy="81" r="20.5" fill="url(#g59b)" stroke="#2a9a44" stroke-width="0.6"/>
<text x="1154.5" y="84.5" font-family="Liberation Sans" font-weight="bold" font-size="11" fill="#fff">59</text>
</svg>
</body></html>
